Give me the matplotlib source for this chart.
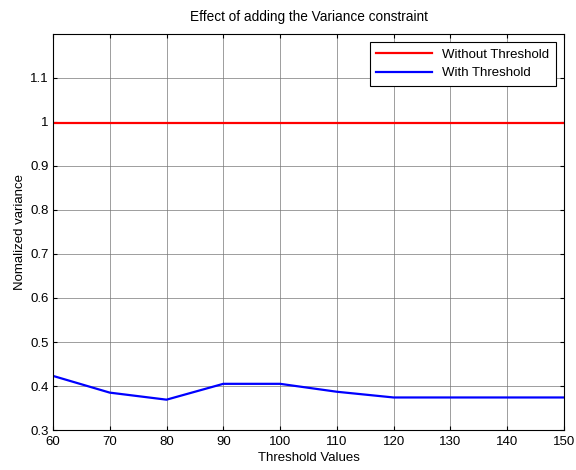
import matplotlib.pyplot as plt

plt.rcParams['font.family'] = ['Liberation Sans', 'DejaVu Sans']

# data
thresholds = [60, 70, 80, 90, 100, 110, 120, 130, 140, 150]
without_thr = [0.998, 0.998, 0.998, 0.998, 0.998, 0.998, 0.998, 0.998, 0.998, 0.998]
with_thr = [0.423, 0.385, 0.369, 0.405, 0.405, 0.387, 0.374, 0.374, 0.374, 0.374]

fig = plt.figure(figsize=(5.76, 4.70), dpi=100)
ax = fig.add_axes([0.092, 0.085, 0.887, 0.843])

ax.plot(thresholds, without_thr, color='#ff0000', lw=1.6, label='Without Threshold')
ax.plot(thresholds, with_thr, color='#0000ff', lw=1.6, label='With Threshold')

ax.set_xlim(60, 150)
ax.set_ylim(0.3, 1.2)
ax.set_xticks(range(60, 151, 10))
ax.set_yticks([0.3, 0.4, 0.5, 0.6, 0.7, 0.8, 0.9, 1.0, 1.1])
ax.set_yticklabels(['0.3', '0.4', '0.5', '0.6', '0.7', '0.8', '0.9', '1', '1.1'])
ax.grid(True, color='#777777', lw=0.5)
ax.tick_params(direction='in', top=True, right=True, labelsize=9.5, length=3)
ax.tick_params(axis='x', pad=4)
ax.tick_params(axis='y', pad=3)
for s in ax.spines.values():
    s.set_linewidth(0.8)

ax.set_xlabel('Threshold Values', fontsize=9.5, labelpad=3)
ax.set_ylabel('Nomalized variance', fontsize=9.5, labelpad=3)
ax.set_title('Effect of adding the Variance constraint', fontsize=9.8, pad=9)

leg = ax.legend(loc='upper right', fontsize=9.5, fancybox=False, framealpha=1,
                edgecolor='black', handlelength=4.2, borderaxespad=0.6,
                borderpad=0.5, labelspacing=0.5)
leg.get_frame().set_linewidth(0.8)

plt.savefig('out.png')
